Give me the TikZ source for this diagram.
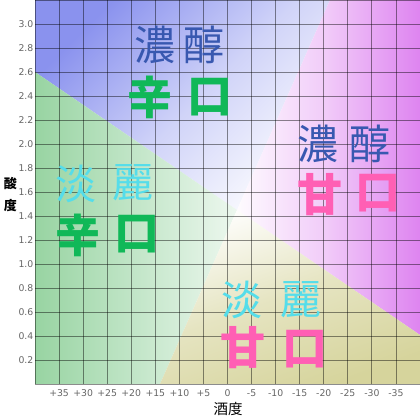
\documentclass[tikz,border=0pt]{standalone}
\usepackage{fontspec}
\setmainfont{DejaVu Sans}
\newfontfamily\cjk{Noto Sans CJK JP}
\definecolor{cblue}{HTML}{8A92EE}
\definecolor{cpink}{HTML}{DE84F0}
\definecolor{cgreen}{HTML}{98D4A2}
\definecolor{cyel}{HTML}{D6D49C}
\definecolor{tblue}{HTML}{3858B0}
\definecolor{tgreen}{HTML}{10B858}
\definecolor{tpink}{HTML}{FF5FB4}
\definecolor{tcyan}{HTML}{55DDEA}
\definecolor{ticklab}{HTML}{666666}
\tikzset{
  gridline/.style={draw=black, draw opacity=0.45, line width=0.85pt},
  tick/.style={text=ticklab, font=\fontsize{9.3}{10}\selectfont, inner sep=0pt},
  axtitle/.style={font=\cjk\bfseries\fontsize{13}{13}\selectfont, inner sep=0pt},
  bigA/.style={font=\cjk\fontsize{41}{41}\selectfont, inner sep=0pt},
  bigB/.style={font=\cjk\bfseries\fontsize{45}{45}\selectfont, inner sep=0pt},
}
\begin{document}
\begin{tikzpicture}[x=1pt,y=1pt]
\useasboundingbox (0,0) rectangle (420,420);
\fill[white] (0,0) rectangle (420,420);
% key points
\coordinate (TL) at (35,420);
\coordinate (TR) at (420,420);
\coordinate (BR) at (420,36);
\coordinate (BL) at (35,36);
\coordinate (C) at (237,210);
\coordinate (L) at (35,348);
\coordinate (T) at (330,420);
\coordinate (R) at (420,85);
\coordinate (B) at (160,36);
% blue region
\begin{scope}
\clip (TL) -- (T) -- (C) -- (L) -- cycle;
\shade[top color=cblue, bottom color=white, middle color=cblue!40!white, shading angle=45] (35,200) rectangle (340,420);
\end{scope}
% pink region
\begin{scope}
\clip (T) -- (TR) -- (R) -- (C) -- cycle;
\shade[left color=white, right color=cpink, middle color=cpink!42!white] (230,80) rectangle (420,420);
\end{scope}
% green region
\begin{scope}
\clip (L) -- (C) -- (B) -- (BL) -- cycle;
\shade[left color=cgreen, right color=white, middle color=cgreen!50!white] (35,36) rectangle (280,350);
\end{scope}
% yellow region
\begin{scope}
\clip (C) -- (R) -- (BR) -- (B) -- cycle;
\shade[top color=cyel, bottom color=white, middle color=cyel!62!white, shading angle=-160] (150,36) rectangle (420,215);
\end{scope}
% grid
\foreach \k in {0,...,16} {
  \draw[gridline] ({35+385*\k/16},36) -- ({35+385*\k/16},420);
  \draw[gridline] (35,{36+24*\k}) -- (420,{36+24*\k});
}
% y tick labels
\foreach \k/\t in {1/0.2,2/0.4,3/0.6,4/0.8,5/1.0,6/1.2,7/1.4,8/1.6,9/1.8,10/2.0,11/2.2,12/2.4,13/2.6,14/2.8,15/3.0}
  \node[tick, anchor=east] (yl\k) at (33.5,{36+24*\k}) {\t};
% x tick labels
\foreach \k/\t in {1/+35,2/+30,3/+25,4/+20,5/+15,6/+10,7/+5,8/0,9/-5,10/-10,11/-15,12/-20,13/-25,14/-30,15/-35}
  \node[tick] (xl\k) at ({35+385*\k/16},27) {\t};
% axis titles
\node[axtitle] (ya1) at (10.5,236) {酸};
\node[axtitle] (ya2) at (10.5,214) {度};
\node[axtitle, font=\cjk\fontsize{14.5}{14.5}\selectfont] (xa) at (228,11) {酒度};
% region labels
\node[bigA, text=tblue] (n1a) at (155,375) {濃};
\node[bigA, text=tblue] (n1b) at (204,375) {醇};
\node[bigB, text=tgreen] (k1a) at (150,323) {辛};
\node[bigB, text=tgreen] (k1b) at (210,323) {口};
\node[bigA, text=tblue] (n2a) at (318,276) {濃};
\node[bigA, text=tblue] (n2b) at (370,276) {醇};
\node[bigB, text=tpink] (a2a) at (320,225) {甘};
\node[bigB, text=tpink] (a2b) at (378,227) {口};
\node[bigA, text=tcyan] (t3a) at (76,236) {淡};
\node[bigA, text=tcyan] (t3b) at (133,237) {麗};
\node[bigB, text=tgreen] (k3a) at (78,185) {辛};
\node[bigB, text=tgreen] (k3b) at (137,186) {口};
\node[bigA, text=tcyan] (t4a) at (242,120) {淡};
\node[bigA, text=tcyan] (t4b) at (301,120) {麗};
\node[bigB, text=tpink] (a4a) at (243,72) {甘};
\node[bigB, text=tpink] (a4b) at (305,71) {口};
\end{tikzpicture}
\end{document}
